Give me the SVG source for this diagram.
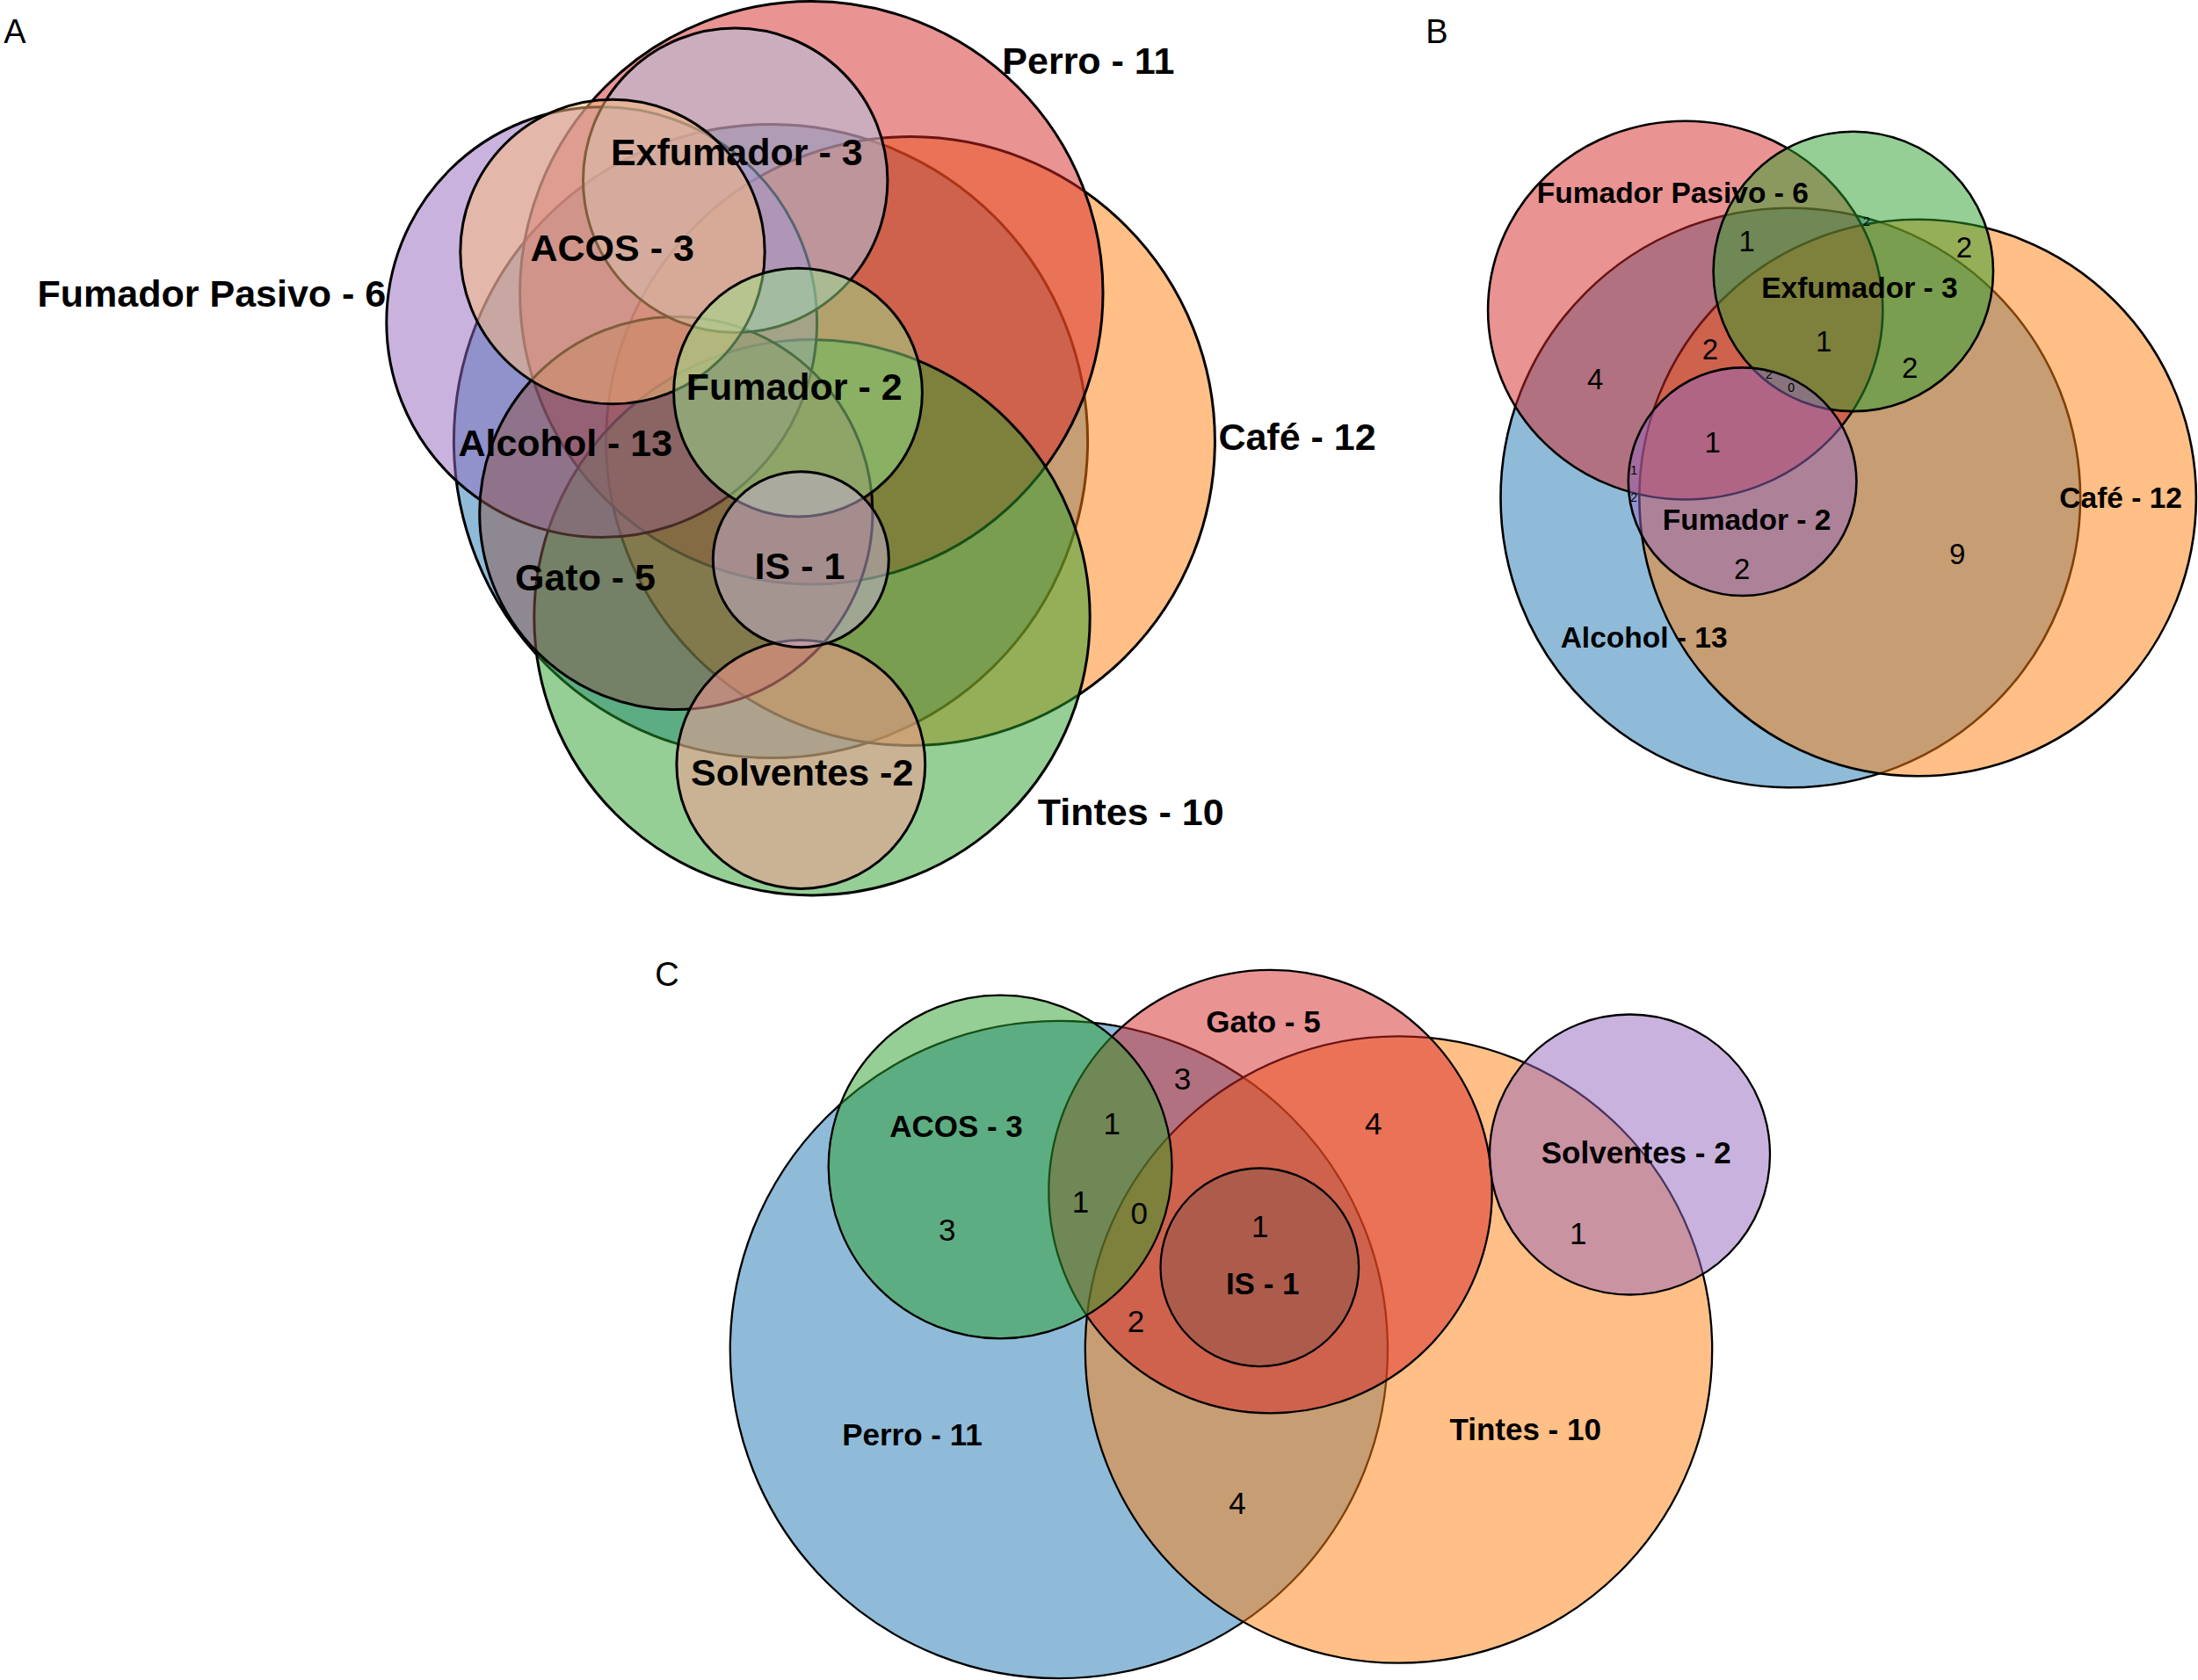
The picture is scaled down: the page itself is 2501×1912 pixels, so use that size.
<svg xmlns="http://www.w3.org/2000/svg" width="2501" height="1912" viewBox="0 0 2501 1912">
<style>
.bg{fill:#ffffff}
.set{fill-opacity:0.5;stroke:#000000}
.pa .set{stroke-width:3}
.pb .set{stroke-width:2.6}
.pc .set{stroke-width:2.3}
.c-blue{fill:#1f77b4}
.c-orange{fill:#ff7f0e}
.c-green{fill:#2ca02c}
.c-red{fill:#d62728}
.c-purple{fill:#9467bd}
.c-brown{fill:#8c564b}
.c-lblue{fill:#aec7e8}
.c-lorange{fill:#ffbb78}
.c-lgreen{fill:#98df8a}
.c-lred{fill:#ff9896}
.c-lpurple{fill:#c5b0d5}
text{font-family:"Liberation Sans",Arial,Helvetica,sans-serif;fill:#000000;text-anchor:middle}
.lbl{font-weight:bold}
.pa .lbl{font-size:43px}
.pb .lbl{font-size:33.5px}
.pc .lbl{font-size:35px}
.pb .num{font-size:33px}
.pc .num{font-size:35px}
.pb .tiny{font-size:14px}
.panel{font-size:38px}
</style>
<rect class="bg" x="0" y="0" width="2501" height="1912"/>

<!-- Panel A -->
<g id="panelA" class="pa">
  <text class="panel" x="17" y="49">A</text>
  <g id="A-alcohol"><circle class="set c-blue" cx="877" cy="502" r="360.6"/></g>
  <g id="A-cafe"><circle class="set c-orange" cx="1036" cy="502" r="346.4"/></g>
  <g id="A-perro"><circle class="set c-red" cx="923.3" cy="333.3" r="331.7"/></g>
  <g id="A-tintes"><circle class="set c-green" cx="924" cy="702.7" r="316.2"/></g>
  <g id="A-fumador-pasivo"><circle class="set c-purple" cx="684.7" cy="366.7" r="244.9"/></g>
  <g id="A-gato"><circle class="set c-brown" cx="769.3" cy="584" r="223.6"/></g>
  <g id="A-exfumador"><circle class="set c-lblue" cx="836.7" cy="205.3" r="173.2"/></g>
  <g id="A-acos"><circle class="set c-lorange" cx="697" cy="286.5" r="173.2"/></g>
  <g id="A-fumador"><circle class="set c-lgreen" cx="908" cy="446.7" r="141.4"/></g>
  <g id="A-solventes"><circle class="set c-lred" cx="911.3" cy="870" r="141.4"/></g>
  <g id="A-is"><circle class="set c-lpurple" cx="911.3" cy="636.7" r="100"/></g>
  <g id="A-labels">
    <text class="lbl" x="1238.3" y="84">Perro - 11</text>
    <text class="lbl" x="838.3" y="187.5">Exfumador - 3</text>
    <text class="lbl" x="696.7" y="296.7">ACOS - 3</text>
    <text class="lbl" x="240.9" y="348.8">Fumador Pasivo - 6</text>
    <text class="lbl" x="903.7" y="455.4">Fumador - 2</text>
    <text class="lbl" x="643.3" y="518.7">Alcohol - 13</text>
    <text class="lbl" x="1476" y="512">Café - 12</text>
    <text class="lbl" x="666" y="672">Gato - 5</text>
    <text class="lbl" x="910" y="658.7">IS - 1</text>
    <text class="lbl" x="912.7" y="894">Solventes -2</text>
    <text class="lbl" x="1286.7" y="938.7">Tintes - 10</text>
  </g>
</g>

<!-- Panel B -->
<g id="panelB" class="pb">
  <text class="panel" x="1635" y="49">B</text>
  <g id="B-alcohol"><circle class="set c-blue" cx="2037.3" cy="566.5" r="329.8"/></g>
  <g id="B-cafe"><circle class="set c-orange" cx="2182.1" cy="566.5" r="316.8"/></g>
  <g id="B-fumador-pasivo"><ellipse class="set c-red" cx="1917.7" cy="353.1" rx="224.6" ry="215.4"/></g>
  <g id="B-exfumador"><circle class="set c-green" cx="2108.8" cy="308.9" r="159.2"/></g>
  <g id="B-fumador"><circle class="set c-purple" cx="1982.6" cy="548.2" r="129.8"/></g>
  <g id="B-labels">
    <text class="lbl" x="1903.3" y="231.4">Fumador Pasivo - 6</text>
    <text class="lbl" x="2115.9" y="338.7">Exfumador - 3</text>
    <text class="lbl" x="1987.6" y="602.6">Fumador - 2</text>
    <text class="lbl" x="1870.6" y="736.6">Alcohol - 13</text>
    <text class="lbl" x="2413.2" y="578">Café - 12</text>
  </g>
  <g id="B-counts">
    <text class="num" x="1987.8" y="285.8">1</text>
    <text class="num" x="2235" y="292.6">2</text>
    <text class="num" x="1946" y="409.4">2</text>
    <text class="num" x="1815.1" y="443.4">4</text>
    <text class="num" x="2075.3" y="400">1</text>
    <text class="num" x="2173.2" y="430.3">2</text>
    <text class="num" x="1948.6" y="515.1">1</text>
    <text class="num" x="1982.1" y="659.1">2</text>
    <text class="num" x="2227.1" y="642.4">9</text>
    <text class="tiny" x="2124" y="256.8">2</text>
    <text class="tiny" x="2013" y="431.2">2</text>
    <text class="tiny" x="2038.1" y="446.4">0</text>
    <text class="tiny" x="1859.1" y="539.6">1</text>
    <text class="tiny" x="1859.1" y="571">2</text>
  </g>
</g>

<!-- Panel C -->
<g id="panelC" class="pc">
  <text class="panel" x="759" y="1122">C</text>
  <g id="C-perro"><circle class="set c-blue" cx="1204.9" cy="1536" r="374.1"/></g>
  <g id="C-tintes"><circle class="set c-orange" cx="1591.5" cy="1536" r="356.7"/></g>
  <g id="C-gato"><circle class="set c-red" cx="1445.5" cy="1356.1" r="252.2"/></g>
  <g id="C-acos"><circle class="set c-green" cx="1138.1" cy="1328" r="195.4"/></g>
  <g id="C-solventes"><circle class="set c-purple" cx="1854.5" cy="1314" r="159.5"/></g>
  <g id="C-is"><circle class="set c-brown" cx="1433.3" cy="1442.3" r="112.8"/></g>
  <g id="C-labels">
    <text class="lbl" x="1437.5" y="1174.7">Gato - 5</text>
    <text class="lbl" x="1088" y="1293.8">ACOS - 3</text>
    <text class="lbl" x="1861.7" y="1324.2">Solventes - 2</text>
    <text class="lbl" x="1436.7" y="1473">IS - 1</text>
    <text class="lbl" x="1037.9" y="1645.2">Perro - 11</text>
    <text class="lbl" x="1735.7" y="1639.2">Tintes - 10</text>
  </g>
  <g id="C-counts">
    <text class="num" x="1345.6" y="1240">3</text>
    <text class="num" x="1265.2" y="1290.8">1</text>
    <text class="num" x="1562.7" y="1290.8">4</text>
    <text class="num" x="1229.5" y="1379.6">1</text>
    <text class="num" x="1296.3" y="1393.3">0</text>
    <text class="num" x="1077.7" y="1412.2">3</text>
    <text class="num" x="1433.7" y="1408.4">1</text>
    <text class="num" x="1795.7" y="1416">1</text>
    <text class="num" x="1292.5" y="1516.2">2</text>
    <text class="num" x="1407.9" y="1723.4">4</text>
  </g>
</g>
</svg>
